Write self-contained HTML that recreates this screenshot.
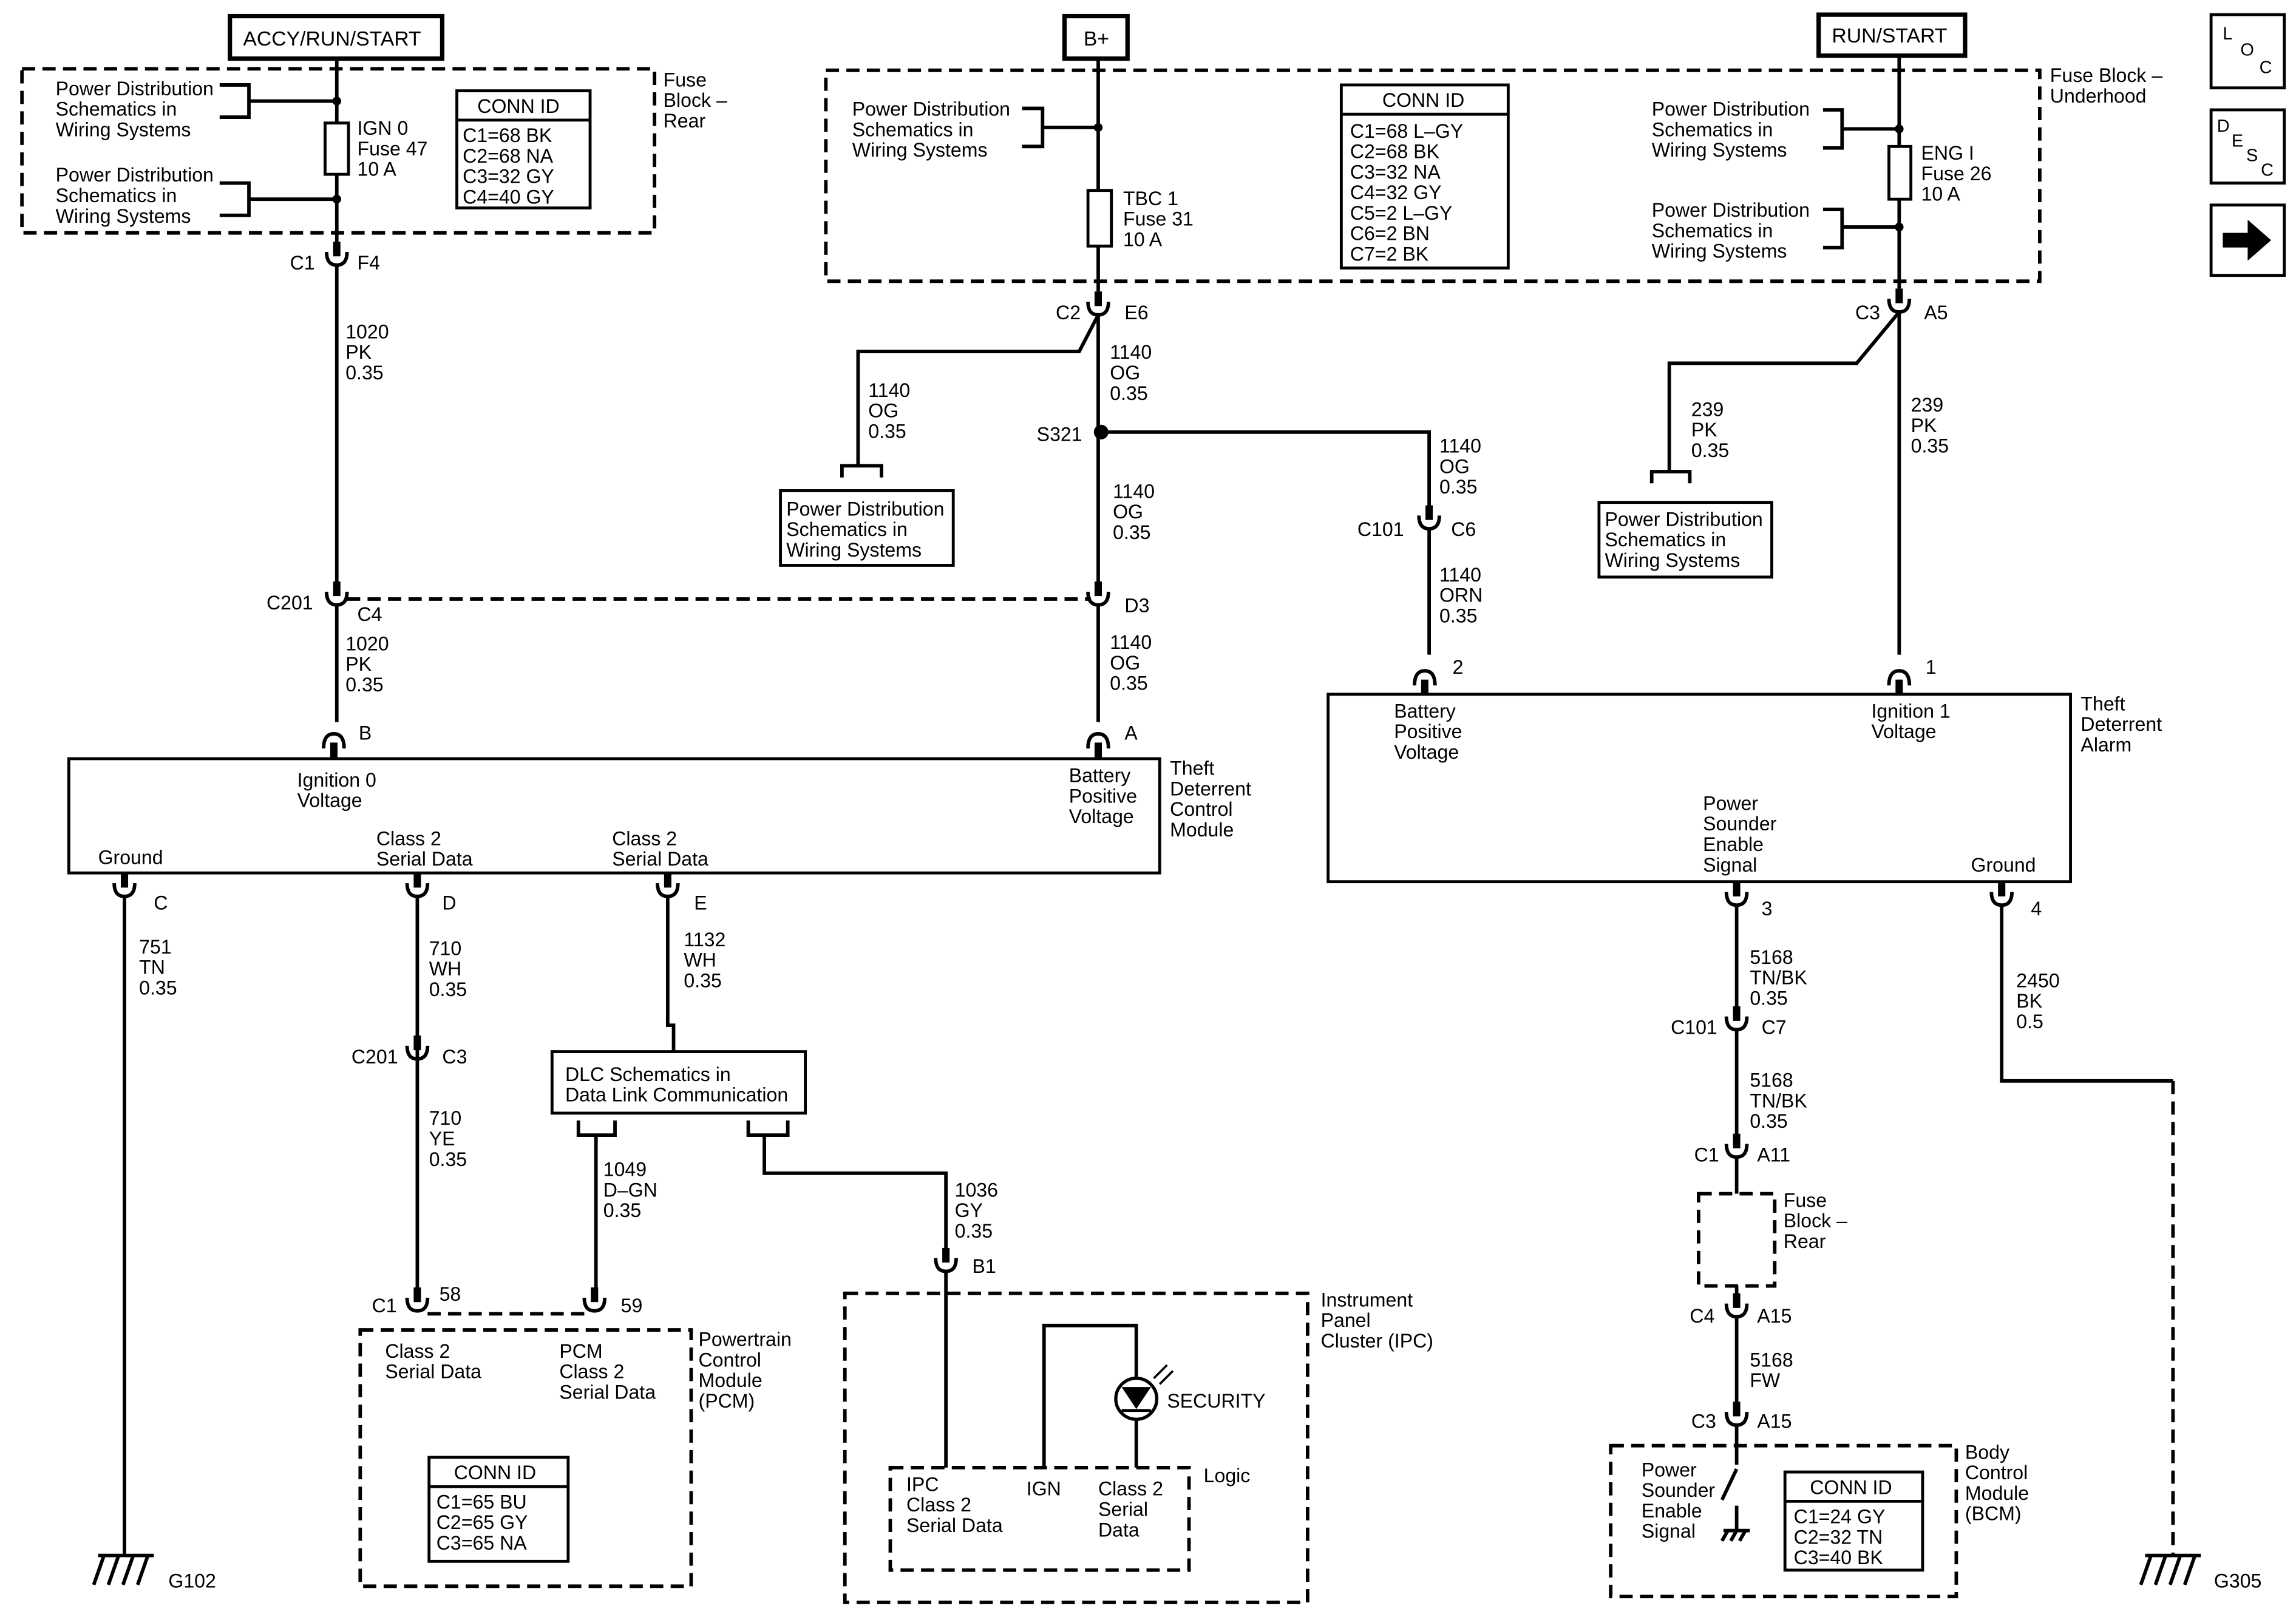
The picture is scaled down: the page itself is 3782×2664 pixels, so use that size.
<!DOCTYPE html>
<html><head><meta charset="utf-8"><style>
html,body{margin:0;padding:0;background:#fff}
svg{display:block}
text{font-family:"Liberation Sans",Arial,sans-serif;font-size:13.3px;fill:#000}
.w{stroke:#000;stroke-width:2.4;fill:none}
.d{stroke:#000;stroke-width:2.4;fill:none;stroke-dasharray:9,5}
.b{stroke:#000;stroke-width:2;fill:#fff}
</style></head><body>
<svg width="3782" height="2664" viewBox="0 0 1568 1104" preserveAspectRatio="none" xmlns="http://www.w3.org/2000/svg">
<defs>
<g id="cn"><rect x="-2.5" y="-13" width="5" height="10" fill="#000"/><path d="M-7,-6 Q-7,3 0,3 Q7,3 7,-6" stroke="#000" stroke-width="2.4" fill="none"/></g>
<g id="pin"><path d="M-7,6 Q-7,-4 0,-4 Q7,-4 7,6" stroke="#000" stroke-width="2.4" fill="none"/><rect x="-2.5" y="2" width="5" height="10" fill="#000"/></g>
</defs>
<rect width="1568" height="1104" fill="#fff"/>

<!-- top labels -->
<rect x="157" y="11" width="145" height="29" fill="#fff" stroke="#000" stroke-width="3"/>
<text x="166" y="31" style="font-size:14px">ACCY/RUN/START</text>
<rect x="727" y="11" width="43" height="29" fill="#fff" stroke="#000" stroke-width="3"/>
<text x="740" y="31" style="font-size:14px">B+</text>
<rect x="1242" y="10" width="100" height="28" fill="#fff" stroke="#000" stroke-width="3"/>
<text x="1251" y="29" style="font-size:14px">RUN/START</text>

<!-- right icons -->
<rect x="1510" y="10" width="50" height="50" class="b"/>
<text x="1518" y="27" style="font-size:12px">L</text><text x="1530" y="38" style="font-size:12px">O</text><text x="1543" y="50" style="font-size:12px">C</text>
<rect x="1510" y="75" width="50" height="50" class="b"/>
<text x="1514" y="90" style="font-size:12px">D</text><text x="1524" y="100" style="font-size:12px">E</text><text x="1534" y="110" style="font-size:12px">S</text><text x="1544" y="120" style="font-size:12px">C</text>
<rect x="1510" y="140" width="50" height="48" class="b"/>
<path d="M1518,159 L1535,159 L1535,150 L1551,164 L1535,178 L1535,169 L1518,169 Z" fill="#000"/>

<!-- Fuse block rear -->
<rect x="15" y="47" width="432" height="112" class="d"/>
<text x="453" y="59">Fuse</text><text x="453" y="73">Block –</text><text x="453" y="87">Rear</text>
<text x="38" y="65">Power Distribution</text><text x="38" y="79">Schematics in</text><text x="38" y="93">Wiring Systems</text>
<text x="38" y="124">Power Distribution</text><text x="38" y="138">Schematics in</text><text x="38" y="152">Wiring Systems</text>
<path class="w" d="M150,58 H170 V80 H150 M170,69 H230 M150,125 H170 V147 H150 M170,136 H230"/>
<circle cx="230" cy="69" r="3" fill="#000"/><circle cx="230" cy="136" r="3" fill="#000"/>
<path class="w" d="M230,40 V165"/>
<rect x="222" y="84" width="16" height="35" class="b"/>
<text x="244" y="92">IGN 0</text><text x="244" y="106">Fuse 47</text><text x="244" y="120">10 A</text>
<rect x="312" y="62" width="91" height="80" class="b"/><path class="w" d="M312,82 H403" style="stroke-width:2"/>
<text x="326" y="77">CONN ID</text>
<text x="316" y="97">C1=68 BK</text><text x="316" y="111">C2=68 NA</text><text x="316" y="125">C3=32 GY</text><text x="316" y="139">C4=40 GY</text>

<use href="#cn" x="230" y="178"/>
<text x="198" y="184">C1</text><text x="244" y="184">F4</text>
<path class="w" d="M230,181 V397"/>
<text x="236" y="231">1020</text><text x="236" y="245">PK</text><text x="236" y="259">0.35</text>
<use href="#cn" x="230" y="410"/>
<text x="182" y="416">C201</text><text x="244" y="424">C4</text>
<path class="d" d="M237,409 H745"/>
<path class="w" d="M230,413 V493"/>
<text x="236" y="444">1020</text><text x="236" y="458">PK</text><text x="236" y="472">0.35</text>
<use href="#pin" x="228" y="505"/><text x="245" y="505">B</text>

<!-- TDCM box -->
<rect x="47" y="518" width="745" height="78" class="b"/>
<text x="203" y="537">Ignition 0</text><text x="203" y="551">Voltage</text>
<text x="730" y="534">Battery</text><text x="730" y="548">Positive</text><text x="730" y="562">Voltage</text>
<text x="799" y="529">Theft</text><text x="799" y="543">Deterrent</text><text x="799" y="557">Control</text><text x="799" y="571">Module</text>
<text x="67" y="590">Ground</text>
<text x="257" y="577">Class 2</text><text x="257" y="591">Serial Data</text>
<text x="418" y="577">Class 2</text><text x="418" y="591">Serial Data</text>

<!-- bottom pins TDCM -->
<use href="#cn" x="85" y="609"/><text x="105" y="621">C</text>
<use href="#cn" x="285" y="609"/><text x="302" y="621">D</text>
<use href="#cn" x="456" y="609"/><text x="474" y="621">E</text>
<path class="w" d="M85,612 V1062"/>
<text x="95" y="651">751</text><text x="95" y="665">TN</text><text x="95" y="679">0.35</text>
<path class="w" d="M67,1062 H105 M71,1062 L64,1082 M81,1062 L74,1082 M91,1062 L84,1082 M101,1062 L94,1082"/>
<text x="115" y="1084">G102</text>

<path class="w" d="M285,612 V880"/>
<text x="293" y="652">710</text><text x="293" y="666">WH</text><text x="293" y="680">0.35</text>
<use href="#cn" x="285" y="720"/>
<text x="240" y="726">C201</text><text x="302" y="726">C3</text>
<text x="293" y="768">710</text><text x="293" y="782">YE</text><text x="293" y="796">0.35</text>
<use href="#cn" x="285" y="892"/>
<text x="254" y="896">C1</text><text x="300" y="888">58</text>
<path class="d" d="M292,897 H400"/>
<use href="#cn" x="406" y="892"/>
<text x="424" y="896">59</text>
<rect x="246" y="908" width="226" height="175" class="d"/>
<text x="263" y="927">Class 2</text><text x="263" y="941">Serial Data</text>
<text x="382" y="927">PCM</text><text x="382" y="941">Class 2</text><text x="382" y="955">Serial Data</text>
<text x="477" y="919">Powertrain</text><text x="477" y="933">Control</text><text x="477" y="947">Module</text><text x="477" y="961">(PCM)</text>
<rect x="293" y="995" width="95" height="71" class="b"/><path class="w" d="M293,1015 H388" style="stroke-width:2"/>
<text x="310" y="1010">CONN ID</text>
<text x="298" y="1030">C1=65 BU</text><text x="298" y="1044">C2=65 GY</text><text x="298" y="1058">C3=65 NA</text>

<!-- E to DLC -->
<path class="w" d="M456,612 V700 H460 V718"/>
<text x="467" y="646">1132</text><text x="467" y="660">WH</text><text x="467" y="674">0.35</text>
<rect x="377" y="718" width="173" height="42" class="b"/>
<text x="386" y="738">DLC Schematics in</text><text x="386" y="752">Data Link Communication</text>
<path class="w" d="M395,765 V775 H420 V765 M511,765 V775 H538 V765"/>
<path class="w" d="M407,775 V880"/>
<text x="412" y="803">1049</text><text x="412" y="817">D–GN</text><text x="412" y="831">0.35</text>
<path class="w" d="M522,775 V801 H646 V853"/>
<text x="652" y="817">1036</text><text x="652" y="831">GY</text><text x="652" y="845">0.35</text>
<use href="#cn" x="646" y="865"/><text x="664" y="869">B1</text>
<path class="w" d="M646,868 V1002"/>
<rect x="577" y="883" width="316" height="211" class="d"/>
<text x="902" y="892">Instrument</text><text x="902" y="906">Panel</text><text x="902" y="920">Cluster (IPC)</text>
<rect x="608" y="1002" width="204" height="70" class="d"/>
<text x="822" y="1012">Logic</text>
<text x="619" y="1018">IPC</text><text x="619" y="1032">Class 2</text><text x="619" y="1046">Serial Data</text>
<text x="701" y="1021">IGN</text>
<text x="750" y="1021">Class 2</text><text x="750" y="1035">Serial</text><text x="750" y="1049">Data</text>
<path class="w" d="M713,1002 V905 H776 V1002"/>
<circle cx="776" cy="955" r="14" fill="#fff" stroke="#000" stroke-width="2.2"/>
<path d="M766,947 H786 L776,962 Z" fill="#000"/><path class="w" d="M766,963 H786" style="stroke-width:2"/>
<path d="M788,941 L797,932 M792,945 L801,936" stroke="#000" stroke-width="1.5"/>
<text x="797" y="961">SECURITY</text>

<!-- Fuse block underhood -->
<rect x="564" y="48" width="829" height="144" class="d"/>
<text x="1400" y="56">Fuse Block –</text><text x="1400" y="70">Underhood</text>
<text x="582" y="79">Power Distribution</text><text x="582" y="93">Schematics in</text><text x="582" y="107">Wiring Systems</text>
<path class="w" d="M698,74 H712 V100 H698 M712,87 H750"/>
<circle cx="750" cy="87" r="3" fill="#000"/>
<path class="w" d="M750,40 V199"/>
<rect x="743" y="130" width="16" height="38" class="b"/>
<text x="767" y="140">TBC 1</text><text x="767" y="154">Fuse 31</text><text x="767" y="168">10 A</text>
<rect x="916" y="58" width="114" height="125" class="b"/><path class="w" d="M916,78 H1030" style="stroke-width:2"/>
<text x="944" y="73">CONN ID</text>
<text x="922" y="94">C1=68 L–GY</text><text x="922" y="108">C2=68 BK</text><text x="922" y="122">C3=32 NA</text><text x="922" y="136">C4=32 GY</text><text x="922" y="150">C5=2 L–GY</text><text x="922" y="164">C6=2 BN</text><text x="922" y="178">C7=2 BK</text>

<use href="#cn" x="750" y="212"/>
<text x="721" y="218">C2</text><text x="768" y="218">E6</text>
<path class="w" d="M750,215 L737,240 H586 V318"/>
<path class="w" d="M575,326 V318 H602 V326"/>
<text x="593" y="271">1140</text><text x="593" y="285">OG</text><text x="593" y="299">0.35</text>
<rect x="533" y="335" width="118" height="51" class="b"/>
<text x="537" y="352">Power Distribution</text><text x="537" y="366">Schematics in</text><text x="537" y="380">Wiring  Systems</text>
<path class="w" d="M750,215 V397"/>
<text x="758" y="245">1140</text><text x="758" y="259">OG</text><text x="758" y="273">0.35</text>
<circle cx="752" cy="295" r="5" fill="#000"/>
<text x="708" y="301">S321</text>
<path class="w" d="M752,295 H976 V345"/>
<text x="760" y="340">1140</text><text x="760" y="354">OG</text><text x="760" y="368">0.35</text>
<use href="#cn" x="750" y="410"/><text x="768" y="418">D3</text>
<path class="w" d="M750,413 V493"/>
<text x="758" y="443">1140</text><text x="758" y="457">OG</text><text x="758" y="471">0.35</text>
<use href="#pin" x="750" y="505"/><text x="768" y="505">A</text>

<text x="983" y="309">1140</text><text x="983" y="323">OG</text><text x="983" y="337">0.35</text>
<use href="#cn" x="976" y="358"/>
<text x="927" y="366">C101</text><text x="991" y="366">C6</text>
<path class="w" d="M976,361 V447"/>
<text x="983" y="397">1140</text><text x="983" y="411">ORN</text><text x="983" y="425">0.35</text>
<use href="#pin" x="973" y="462"/><text x="992" y="460">2</text>

<!-- TDA -->
<rect x="907" y="474" width="507" height="128" class="b"/>
<text x="952" y="490">Battery</text><text x="952" y="504">Positive</text><text x="952" y="518">Voltage</text>
<text x="1278" y="490">Ignition 1</text><text x="1278" y="504">Voltage</text>
<text x="1421" y="485">Theft</text><text x="1421" y="499">Deterrent</text><text x="1421" y="513">Alarm</text>
<text x="1163" y="553">Power</text><text x="1163" y="567">Sounder</text><text x="1163" y="581">Enable</text><text x="1163" y="595">Signal</text>
<text x="1346" y="595">Ground</text>

<!-- RUN/START -->
<text x="1128" y="79">Power Distribution</text><text x="1128" y="93">Schematics in</text><text x="1128" y="107">Wiring  Systems</text>
<text x="1128" y="148">Power Distribution</text><text x="1128" y="162">Schematics in</text><text x="1128" y="176">Wiring  Systems</text>
<path class="w" d="M1245,75 H1258 V101 H1245 M1258,88 H1297 M1245,143 H1258 V169 H1245 M1258,155 H1297"/>
<circle cx="1297" cy="88" r="3" fill="#000"/><circle cx="1297" cy="155" r="3" fill="#000"/>
<path class="w" d="M1297,38 V197"/>
<rect x="1290" y="100" width="15" height="36" class="b"/>
<text x="1312" y="109">ENG I</text><text x="1312" y="123">Fuse 26</text><text x="1312" y="137">10 A</text>
<use href="#cn" x="1297" y="210"/>
<text x="1267" y="218">C3</text><text x="1314" y="218">A5</text>
<path class="w" d="M1297,213 L1268,248 H1140 V322"/>
<path class="w" d="M1128,330 V322 H1154 V330"/>
<text x="1155" y="284">239</text><text x="1155" y="298">PK</text><text x="1155" y="312">0.35</text>
<rect x="1092" y="343" width="118" height="51" class="b"/>
<text x="1096" y="359">Power Distribution</text><text x="1096" y="373">Schematics in</text><text x="1096" y="387">Wiring  Systems</text>
<path class="w" d="M1297,213 V447"/>
<text x="1305" y="281">239</text><text x="1305" y="295">PK</text><text x="1305" y="309">0.35</text>
<use href="#pin" x="1297" y="462"/><text x="1315" y="460">1</text>

<!-- pin 3 chain -->
<use href="#cn" x="1186" y="615"/><text x="1203" y="625">3</text>
<path class="w" d="M1186,618 V688"/>
<text x="1195" y="658">5168</text><text x="1195" y="672">TN/BK</text><text x="1195" y="686">0.35</text>
<use href="#cn" x="1186" y="700"/>
<text x="1141" y="706">C101</text><text x="1203" y="706">C7</text>
<path class="w" d="M1186,703 V775"/>
<text x="1195" y="742">5168</text><text x="1195" y="756">TN/BK</text><text x="1195" y="770">0.35</text>
<use href="#cn" x="1186" y="787"/>
<text x="1157" y="793">C1</text><text x="1200" y="793">A11</text>
<path class="w" d="M1186,790 V815"/>
<rect x="1160" y="815" width="52" height="63" class="d"/>
<text x="1218" y="824">Fuse</text><text x="1218" y="838">Block –</text><text x="1218" y="852">Rear</text>
<path class="w" d="M1186,878 V885"/>
<use href="#cn" x="1186" y="896"/>
<text x="1154" y="903">C4</text><text x="1200" y="903">A15</text>
<path class="w" d="M1186,899 V958"/>
<text x="1195" y="933">5168</text><text x="1195" y="947">FW</text>
<use href="#cn" x="1186" y="970"/>
<text x="1155" y="975">C3</text><text x="1200" y="975">A15</text>
<path class="w" d="M1186,973 V1000 M1186,1003 L1176,1024 M1186,1028 V1045 M1177,1045 H1195 M1180,1045 L1176,1052 M1186,1045 L1182,1052 M1192,1045 L1188,1052"/>
<rect x="1100" y="987" width="236" height="103" class="d"/>
<text x="1342" y="996">Body</text><text x="1342" y="1010">Control</text><text x="1342" y="1024">Module</text><text x="1342" y="1038">(BCM)</text>
<text x="1121" y="1008">Power</text><text x="1121" y="1022">Sounder</text><text x="1121" y="1036">Enable</text><text x="1121" y="1050">Signal</text>
<rect x="1219" y="1005" width="94" height="67" class="b"/><path class="w" d="M1219,1025 H1313" style="stroke-width:2"/>
<text x="1236" y="1020">CONN ID</text>
<text x="1225" y="1040">C1=24 GY</text><text x="1225" y="1054">C2=32 TN</text><text x="1225" y="1068">C3=40 BK</text>

<!-- pin 4 -->
<use href="#cn" x="1367" y="615"/><text x="1387" y="625">4</text>
<path class="w" d="M1367,618 V738 H1484"/>
<path class="d" d="M1484,738 V1062"/>
<text x="1377" y="674">2450</text><text x="1377" y="688">BK</text><text x="1377" y="702">0.5</text>
<path class="w" d="M1465,1062 H1503 M1469,1062 L1462,1082 M1479,1062 L1472,1082 M1489,1062 L1482,1082 M1499,1062 L1492,1082"/>
<text x="1512" y="1084">G305</text>
</svg>
</body></html>
